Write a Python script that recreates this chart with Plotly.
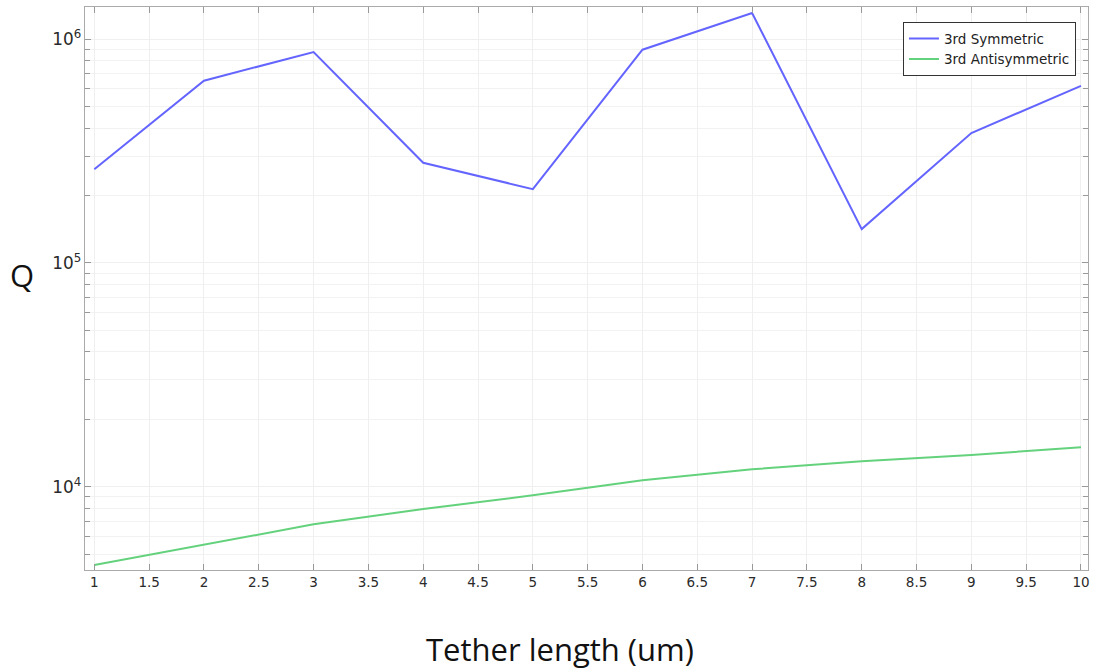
import plotly.graph_objects as go

tether_length = [1, 2, 3, 4, 5, 6, 7, 8, 9, 10]
q_symmetric = [2.62e5, 6.51e5, 8.75e5, 2.80e5, 2.135e5, 8.96e5, 1.307e6, 1.415e5, 3.80e5, 6.18e5]
q_antisymmetric = [4.47e3, 5.49e3, 6.79e3, 7.95e3, 9.15e3, 1.07e4, 1.196e4, 1.30e4, 1.386e4, 1.50e4]
series_names = ["3rd Symmetric", "3rd Antisymmetric"]
x_title = "Tether length (um)"
y_title = "Q"

fig = go.Figure()
fig.add_trace(go.Scatter(x=tether_length, y=q_symmetric, mode="lines", name=series_names[0],
                         line=dict(color="#6464ff", width=2)))
fig.add_trace(go.Scatter(x=tether_length, y=q_antisymmetric, mode="lines", name=series_names[1],
                         line=dict(color="#64d27c", width=2)))

tick_font = dict(family="DejaVu Sans", size=13.5, color="#2a2a2a")
fig.update_layout(
    width=1094, height=671,
    margin=dict(l=85, r=4, t=7, b=101),
    paper_bgcolor="white", plot_bgcolor="white",
    showlegend=True,
    legend=dict(x=0.988, y=0.973, xanchor="right", yanchor="top",
                bgcolor="white", bordercolor="#333333", borderwidth=1,
                font=dict(family="DejaVu Sans", size=13.5, color="#222222"),
                tracegroupgap=0),
    xaxis=dict(range=[0.915, 10.064], dtick=0.5, tick0=1, ticks="inside", ticklen=6,
               tickcolor="#999999", showline=True, linecolor="#aaaaaa", linewidth=1,
               mirror="ticks", showgrid=True, gridcolor="#efefef", gridwidth=1,
               zeroline=False, tickfont=tick_font),
    yaxis=dict(type="log", range=[3.628, 6.143], dtick=1, ticks="inside", ticklen=6,
               tickcolor="#999999", showline=True, linecolor="#aaaaaa", linewidth=1,
               mirror="ticks", showgrid=True, gridcolor="#efefef", gridwidth=1,
               exponentformat="power", tickfont=tick_font, zeroline=False,
               minor=dict(dtick="D1", ticks="inside", ticklen=5, tickcolor="#999999",
                          showgrid=True, gridcolor="#f2f2f2", gridwidth=1)),
    annotations=[
        dict(text=y_title, xref="paper", yref="paper", x=-0.0627, y=0.524,
             xanchor="center", yanchor="middle", showarrow=False,
             font=dict(family="Open Sans", size=31, color="#111111")),
        dict(text=x_title, xref="paper", yref="paper", x=0.474, y=-0.14,
             xanchor="center", yanchor="middle", showarrow=False,
             font=dict(family="Open Sans", size=31, color="#111111")),
    ],
)

fig.write_html("out.html")
